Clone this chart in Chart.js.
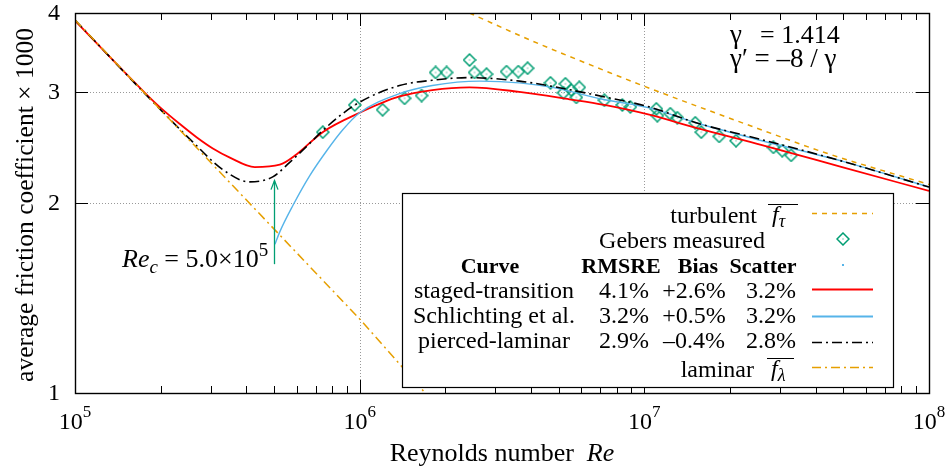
<!DOCTYPE html>
<html>
<head>
<meta charset="utf-8">
<script src="https://cdn.jsdelivr.net/npm/chart.js@4.4.1/dist/chart.umd.min.js"></script>
<style>
  html, body { margin: 0; padding: 0; background: #fff; }
  #wrap { width: 949px; height: 472px; }
</style>
</head>
<body>
<div id="wrap"><canvas id="frictionChart" width="949" height="472"></canvas></div>
<script>
// values: Reynolds number vs friction coefficient x 1000
var laminarRe = [1e5, 1e6, 1.7e6];
var laminarF = [3.9, 1.31, 1.0];

var turbulentRe = [2.43e6, 4.05e6, 5.32e6, 7.53e6, 9.84e6, 2.59e7, 4.35e7, 1e8];
var turbulentF = [4.0, 3.61, 3.43, 3.22, 3.07, 2.61, 2.40, 2.14];

var stagedRe = [1e5, 1.76e5, 2.0e5, 2.33e5, 2.68e5, 3.05e5, 3.5e5, 4.28e5, 5.24e5, 6.01e5, 7.41e5, 1e6, 1.38e6, 1.8e6, 2.43e6, 3.64e6, 5.46e6, 7.24e6, 1.04e7, 1.52e7, 2.59e7, 4.95e7, 1e8];
var stagedF = [3.89, 2.99, 2.83, 2.67, 2.54, 2.44, 2.36, 2.28, 2.30, 2.39, 2.59, 2.78, 2.95, 3.02, 3.05, 3.00, 2.92, 2.86, 2.76, 2.63, 2.47, 2.28, 2.09];

var schlichtingRe = [5.04e5, 5.24e5, 5.82e5, 6.68e5, 7.66e5, 8.71e5, 1e6, 1.38e6, 1.8e6, 2.64e6, 3.64e6, 4.75e6, 7.13e6, 1.04e7, 1.52e7, 2.59e7, 4.95e7, 1e8];
var schlichtingF = [1.72, 1.80, 1.98, 2.21, 2.42, 2.61, 2.78, 2.98, 3.07, 3.12, 3.10, 3.05, 2.92, 2.83, 2.68, 2.51, 2.33, 2.12];

var piercedRe = [1e5, 1.76e5, 2.59e5, 3.3e5, 4.11e5, 4.95e5, 5.68e5, 6.52e5, 7.66e5, 9.75e5, 1.38e6, 1.8e6, 2.43e6, 3.64e6, 4.75e6, 7.13e6, 1.04e7, 1.52e7, 2.59e7, 4.95e7, 1e8];
var piercedF = [3.9, 2.98, 2.50, 2.26, 2.16, 2.20, 2.32, 2.46, 2.64, 2.87, 3.07, 3.13, 3.16, 3.12, 3.06, 2.95, 2.84, 2.68, 2.52, 2.33, 2.12];

var gebersRe = [7.42e5, 9.61e5, 1.204e6, 1.438e6, 1.65e6, 1.848e6, 2.02e6, 2.432e6, 2.532e6, 2.79e6, 3.28e6, 3.61e6, 3.89e6, 4.68e6, 5.28e6, 5.2e6, 5.54e6, 5.91e6, 5.77e6, 7.24e6, 8.37e6, 8.93e6, 1.102e7, 1.111e7, 1.234e7, 1.306e7, 1.51e7, 1.585e7, 1.833e7, 2.1e7, 2.84e7, 3.05e7, 3.28e7];
var gebersF = [2.59, 2.86, 2.81, 2.93, 2.96, 3.22, 3.22, 3.37, 3.22, 3.20, 3.23, 3.23, 3.27, 3.10, 3.09, 2.99, 3.02, 3.05, 2.94, 2.91, 2.86, 2.84, 2.82, 2.75, 2.77, 2.73, 2.68, 2.59, 2.55, 2.51, 2.45, 2.42, 2.38];

// critical Reynolds number arrow
var reCrit = 5e5;
var arrowFromF = 1.6;
var arrowToF = 2.17;

// axes
var xMajorTicks = [1e5, 1e6, 1e7, 1e8];
var xTickBase = ['10', '10', '10', '10'];
var xTickExp = ['5', '6', '7', '8'];
var yTicks = [1, 2, 3, 4];
var yTickLabels = ['1', '2', '3', '4'];
var xGrid = [1e6, 1e7];
var yGrid = [2, 3];

// key table
var curveNames = ['staged-transition', 'Schlichting et al.', 'pierced-laminar'];
var rmsre = ['4.1%', '3.2%', '2.9%'];
var bias = ['+2.6%', '+0.5%', '\u20130.4%'];
var scatter = ['3.2%', '3.2%', '2.8%'];

var SERIF = "'Liberation Serif', 'Times New Roman', serif";
var GREEN = '#009e73', BLUE = '#56b4e9', ORANGE = '#e69f00', RED = '#ff0000';

function pts(xs, ys) {
    return xs.map(function (x, i) { return { x: x, y: ys[i] }; });
}

function diamond() {
    var c = document.createElement('canvas');
    c.width = 14; c.height = 14;
    var g = c.getContext('2d');
    g.strokeStyle = GREEN; g.lineWidth = 1.5;
    g.beginPath();
    g.moveTo(7, 1); g.lineTo(13, 7); g.lineTo(7, 13); g.lineTo(1, 7);
    g.closePath(); g.stroke();
    g.fillStyle = GREEN; g.fillRect(6.5, 6.5, 1, 1);
    return c;
}
var diamondImg = diamond();

// draws a run of text pieces [text, font, dy]
function rich(ctx, parts, x, y, align) {
    var w = 0;
    parts.forEach(function (p) { ctx.font = p[1]; w += ctx.measureText(p[0]).width; });
    var cx = align === 'center' ? x - w / 2 : (align === 'right' ? x - w : x);
    ctx.textAlign = 'left';
    parts.forEach(function (p) {
        ctx.font = p[1];
        ctx.fillText(p[0], cx, y + (p[2] || 0));
        cx += ctx.measureText(p[0]).width;
    });
    return w;
}

function f(size, style) { return (style || '') + ' ' + size + 'px ' + SERIF; }

var gridPlugin = {
    id: 'gnuGrid',
    beforeDatasetsDraw: function (chart) {
        var ctx = chart.ctx, a = chart.chartArea, sx = chart.scales.x, sy = chart.scales.y;
        ctx.save();
        ctx.strokeStyle = '#999';
        ctx.lineWidth = 1;
        ctx.setLineDash([1, 2]);
        xGrid.forEach(function (v) {
            var px = Math.round(sx.getPixelForValue(v)) + 0.5;
            ctx.beginPath(); ctx.moveTo(px, a.top); ctx.lineTo(px, a.bottom); ctx.stroke();
        });
        yGrid.forEach(function (v) {
            var py = Math.round(sy.getPixelForValue(v)) + 0.5;
            ctx.beginPath(); ctx.moveTo(a.left, py); ctx.lineTo(a.right, py); ctx.stroke();
        });
        ctx.restore();
    },
    afterDatasetsDraw: function (chart) {
        var ctx = chart.ctx, a = chart.chartArea, sx = chart.scales.x, sy = chart.scales.y;
        ctx.save();
        ctx.strokeStyle = '#000';
        ctx.lineWidth = 1;
        ctx.setLineDash([]);

        // tick marks, inward on all four sides
        var major = 13, minor = 7;
        xMajorTicks.forEach(function (v, i) {
            var px = Math.round(sx.getPixelForValue(v)) + 0.5;
            ctx.beginPath();
            ctx.moveTo(px, a.bottom); ctx.lineTo(px, a.bottom - major);
            ctx.moveTo(px, a.top); ctx.lineTo(px, a.top + major);
            ctx.stroke();
            if (i < xMajorTicks.length - 1) {
                for (var k = 2; k <= 9; k++) {
                    var mx = Math.round(sx.getPixelForValue(v * k)) + 0.5;
                    ctx.beginPath();
                    ctx.moveTo(mx, a.bottom); ctx.lineTo(mx, a.bottom - minor);
                    ctx.moveTo(mx, a.top); ctx.lineTo(mx, a.top + minor);
                    ctx.stroke();
                }
            }
        });
        yTicks.forEach(function (v) {
            var py = Math.round(sy.getPixelForValue(v)) + 0.5;
            ctx.beginPath();
            ctx.moveTo(a.left, py); ctx.lineTo(a.left + major, py);
            ctx.moveTo(a.right, py); ctx.lineTo(a.right - major, py);
            ctx.stroke();
        });

        // Re_c arrow
        var ax = Math.round(sx.getPixelForValue(reCrit)) + 0.5;
        var ay0 = sy.getPixelForValue(arrowFromF), ay1 = sy.getPixelForValue(arrowToF);
        ctx.strokeStyle = GREEN; ctx.lineWidth = 1.3;
        ctx.beginPath(); ctx.moveTo(ax, ay0); ctx.lineTo(ax, ay1); ctx.stroke();
        ctx.beginPath(); ctx.moveTo(ax - 3.5, ay1 + 9); ctx.lineTo(ax, ay1); ctx.lineTo(ax + 3.5, ay1 + 9); ctx.stroke();

        ctx.fillStyle = '#000';
        ctx.textBaseline = 'alphabetic';
        rich(ctx, [['Re', f(26, 'italic')], ['c', f(19, 'italic'), 6], [' = 5.0\u00d710', f(26)], ['5', f(19), -11]], 122, 267, 'left');

        // gamma note
        rich(ctx, [['\u03b3', f(27)]], 730, 43, 'left');
        rich(ctx, [['= 1.414', f(26)]], 760, 43, 'left');
        rich(ctx, [['\u03b3\u2032 = \u20138 / \u03b3', f(27)]], 730, 67, 'left');

        // key box
        var kx0 = 402, ky0 = 193, kx1 = 893, ky1 = 387;
        ctx.fillStyle = '#fff';
        ctx.fillRect(kx0, ky0, kx1 - kx0, ky1 - ky0);
        ctx.strokeStyle = '#000'; ctx.lineWidth = 1.2;
        ctx.strokeRect(kx0 + 0.5, ky0 + 0.5, kx1 - kx0, ky1 - ky0);
        ctx.fillStyle = '#000';

        var sx0 = 812, sx1 = 873;
        // turbulent
        ctx.lineWidth = 1;
        rich(ctx, [['turbulent', f(24)]], 757, 223, 'right');
        rich(ctx, [['f', f(24, 'italic')], ['\u03c4', f(18, 'italic'), 5]], 772, 222, 'left');
        ctx.beginPath(); ctx.moveTo(768, 204.5); ctx.lineTo(798, 204.5); ctx.stroke();
        ctx.strokeStyle = ORANGE; ctx.lineWidth = 1.6; ctx.setLineDash([5, 5]);
        ctx.beginPath(); ctx.moveTo(sx0, 213.5); ctx.lineTo(sx1, 213.5); ctx.stroke();
        ctx.setLineDash([]);
        // Gebers
        rich(ctx, [['Gebers measured', f(24)]], 765, 248, 'right');
        ctx.drawImage(diamondImg, 843 - 7, 239 - 7);
        ctx.fillStyle = BLUE; ctx.fillRect(842, 264, 2, 2);
        ctx.fillStyle = '#000';
        // header
        rich(ctx, [['Curve', f(22, 'bold')]], 490, 273, 'center');
        rich(ctx, [['RMSRE', f(22, 'bold')]], 621, 273, 'center');
        rich(ctx, [['Bias', f(22, 'bold')]], 698, 273, 'center');
        rich(ctx, [['Scatter', f(22, 'bold')]], 763, 273, 'center');
        var rowBase = [298, 323, 348];
        var rowLine = [289.5, 316.5, 342.5];
        var rowStyle = [[RED, 1.8, []], [BLUE, 1.8, []], ['#000', 1.5, [10, 4, 2, 4]]];
        curveNames.forEach(function (name, i) {
            rich(ctx, [[name, f(24)]], 494, rowBase[i], 'center');
            rich(ctx, [[rmsre[i], f(24)]], 624, rowBase[i], 'center');
            rich(ctx, [[bias[i], f(24)]], 694, rowBase[i], 'center');
            rich(ctx, [[scatter[i], f(24)]], 771, rowBase[i], 'center');
            ctx.strokeStyle = rowStyle[i][0]; ctx.lineWidth = rowStyle[i][1]; ctx.setLineDash(rowStyle[i][2]);
            ctx.beginPath(); ctx.moveTo(sx0, rowLine[i]); ctx.lineTo(sx1, rowLine[i]); ctx.stroke();
            ctx.setLineDash([]);
        });
        // laminar
        ctx.strokeStyle = '#000'; ctx.lineWidth = 1;
        rich(ctx, [['laminar', f(24)]], 754, 377, 'right');
        rich(ctx, [['f', f(24, 'italic')], ['\u03bb', f(18, 'italic'), 5]], 771, 376, 'left');
        ctx.beginPath(); ctx.moveTo(767, 358.5); ctx.lineTo(794, 358.5); ctx.stroke();
        ctx.strokeStyle = ORANGE; ctx.lineWidth = 1.6; ctx.setLineDash([9, 4, 2, 4]);
        ctx.beginPath(); ctx.moveTo(sx0, 367.5); ctx.lineTo(sx1, 367.5); ctx.stroke();
        ctx.setLineDash([]);

        // frame
        ctx.strokeStyle = '#000'; ctx.lineWidth = 1.4;
        ctx.strokeRect(a.left + 0.5, a.top + 0.5, a.right - a.left, a.bottom - a.top);

        // tick labels
        ctx.fillStyle = '#000';
        xMajorTicks.forEach(function (v, i) {
            var px = sx.getPixelForValue(v);
            rich(ctx, [[xTickBase[i], f(24)], [xTickExp[i], f(17), -12]], px, 429, 'center');
        });
        ctx.textBaseline = 'middle';
        yTicks.forEach(function (v, i) {
            rich(ctx, [[yTickLabels[i], f(24)]], a.left - 15, sy.getPixelForValue(v) + 1, 'right');
        });

        // axis titles
        ctx.textBaseline = 'alphabetic';
        rich(ctx, [['Reynolds number  ', f(26)], ['Re', f(26, 'italic')]], (a.left + a.right) / 2, 461, 'center');
        ctx.save();
        ctx.translate(26, 205);
        ctx.rotate(-Math.PI / 2);
        ctx.textBaseline = 'middle';
        rich(ctx, [['average friction coefficient \u00d7 1000', f(25.5)]], 0, 0, 'center');
        ctx.restore();

        ctx.restore();
    }
};

var datasets = [
    { label: 'laminar', data: pts(laminarRe, laminarF), borderColor: ORANGE, borderWidth: 1.5, borderDash: [9, 4, 2, 4], tension: 0 },
    { label: 'pierced-laminar', data: pts(piercedRe, piercedF), borderColor: '#000', borderWidth: 1.6, borderDash: [10, 4, 2, 4], cubicInterpolationMode: 'monotone' },
    { label: 'Schlichting et al.', data: pts(schlichtingRe, schlichtingF), borderColor: BLUE, borderWidth: 1.4, cubicInterpolationMode: 'monotone' },
    { label: 'staged-transition', data: pts(stagedRe, stagedF), borderColor: RED, borderWidth: 1.8, cubicInterpolationMode: 'monotone' },
    { label: 'Gebers measured', data: pts(gebersRe, gebersF), showLine: false, pointStyle: diamondImg, pointRadius: 5, borderColor: GREEN },
    { label: 'turbulent', data: pts(turbulentRe, turbulentF), borderColor: ORANGE, borderWidth: 1.5, borderDash: [5, 5], cubicInterpolationMode: 'monotone' }
];
datasets.forEach(function (d) {
    d.backgroundColor = 'transparent';
    d.fill = false;
    if (d.showLine !== false) d.pointRadius = 0;
});

new Chart(document.getElementById('frictionChart').getContext('2d'), {
    type: 'line',
    data: { datasets: datasets },
    options: {
        responsive: false,
        animation: false,
        layout: { padding: { left: 75, right: 20, top: 13, bottom: 79 } },
        plugins: { legend: { display: false }, tooltip: { enabled: false } },
        scales: {
            x: { type: 'logarithmic', min: 1e5, max: 1e8, display: false },
            y: { type: 'logarithmic', min: 1, max: 4, display: false }
        }
    },
    plugins: [gridPlugin]
});
</script>
</body>
</html>
